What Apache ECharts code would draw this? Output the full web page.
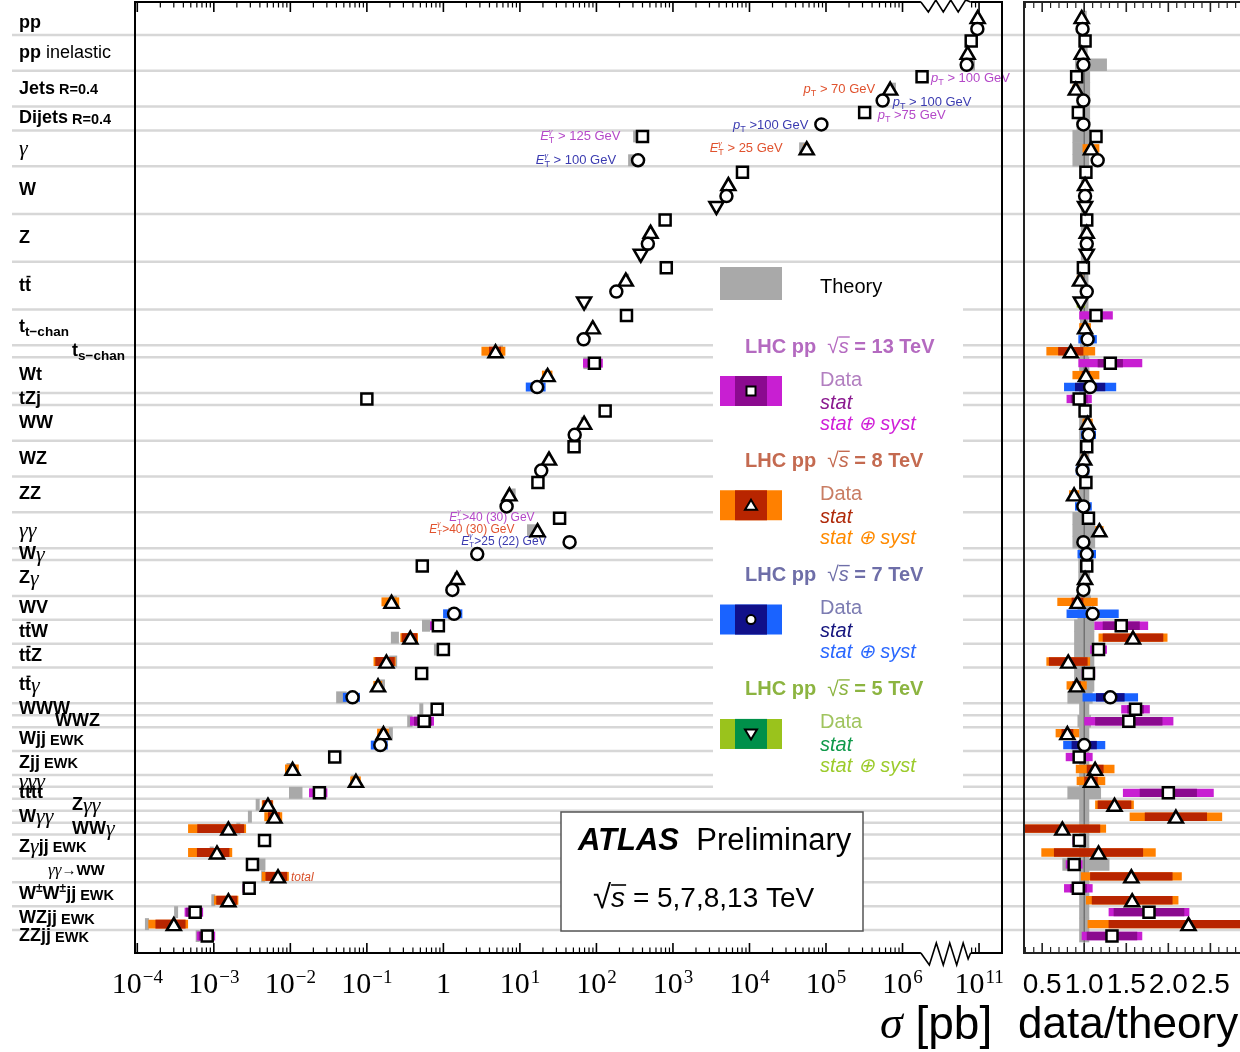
<!DOCTYPE html>
<html>
<head>
<meta charset="utf-8">
<title>ATLAS cross-section summary</title>
<script src="https://cdn.jsdelivr.net/npm/echarts@6.0.0/dist/echarts.min.js"></script>
<style>
html,body{margin:0;padding:0;background:#ffffff;}
#chart{width:1240px;height:1052px;}
</style>
</head>
<body>
<div id="chart"></div>
<script>
// ================= DATA =================
const bandLabels = [
  '{b|pp}', '{b|pp}{n| inelastic}', '{b|Jets}{s| R=0.4}', '{b|Dijets}{s| R=0.4}', '{g|γ}',
  '{b|W}', '{b|Z}', '{b|t}{bo|t}', '{b|t}{sub|t−chan}', '{b|t}{sub|s−chan}',
  '{b|Wt}', '{b|tZj}', '{b|WW}', '{b|WZ}', '{b|ZZ}',
  '{g|γγ}', '{b|W}{g|γ}', '{b|Z}{g|γ}', '{b|WV}', '{b|t}{bo|t}{b|W}',
  '{b|t}{bo|t}{b|Z}', '{b|t}{bo|t}{g|γ}', '{b|WWW}', '{b|WWZ}', '{b|Wjj}{s| EWK}',
  '{b|Zjj}{s| EWK}', '{g|γγγ}', '{b|tttt}', '{b|Z}{g|γγ}', '{b|W}{g|γγ}',
  '{b|WW}{g|γ}', '{b|Z}{g|γ}{b|jj}{s| EWK}', '{gs|γγ}{bs|→WW}', '{b|W}{sup|±}{b|W}{sup|±}{b|jj}{s| EWK}', '{b|WZjj}{s| EWK}',
  '{b|ZZjj}{s| EWK}'
];
const bandRows = [2,3,3,2,3, 4,4,4,3,1, 3,1,3,3,3, 3,1,3,2,2, 2,3,1,1,2, 2,1,1,1,1, 1,2,2,2,2, 1];

const rowEnergy = [8,7, 13,8,7, 13,8,7, 13,7, 13,8,7, 13,8,7,5, 13,8,7,5, 13,8,7,5, 13,8,7, 8, 13,8,7, 13,
  13,8,7, 13,8,7, 13,8,7, 13,8,7, 7, 13,8,7, 8,7, 13,8, 13,8, 13,8,7, 13, 13, 8,7, 13,8, 8, 13, 8, 8, 8,
  13,8, 13,8, 13,8, 13,8, 13];

// measured cross sections [pb]
const sigma = [9.6e10, 9.5e10, 7.9e10, 7.1e10, 6.9e10, 1.8e6, 6.9e5, 5.5e5, 3.2e5, 8.7e4,
  4.0e2, 5.6e4, 3.5e2, 8.1e3, 5.3e3, 5.0e3, 3.7e3, 7.9e2, 5.1e2, 4.7e2, 3.8e2,
  818, 242, 182, 69, 247, 89.6, 68, 4.8, 94, 23, 16.8, 0.10,
  130, 69, 52, 51, 24, 19, 17.2, 7.3, 6.7, 33, 17, 44.6, 2.77, 0.53, 1.5, 1.31,
  0.21, 1.38, 0.86, 0.37, 1.0, 0.18, 0.52, 0.14, 0.065, 0.83, 0.56, 0.165, 0.15,
  0.038, 0.0107, 0.072, 0.024, 5.1e-3, 6.2e-3, 1.55e-3, 4.6e-3, 1.1e-3, 3.2e-3, 6.9e-3,
  2.9e-3, 1.55e-3, 5.7e-4, 3.0e-4, 8.2e-4];

// data / theory
const ratio = [0.97,0.98, 1.01,0.97,0.99, 0.91,0.90,0.99, 0.93,0.99, 1.14,1.08,1.16,
  1.02,1.01,1.01,1.01, 1.03,1.03,1.03,1.03, 0.99,0.95,1.03,0.96, 1.14,1.01,1.04, 0.84,
  1.31,1.02,1.07, 0.94, 1.01,1.04,1.05, 1.03,1.00,0.98, 1.02,0.88,0.99, 1.05,1.18,0.99,
  1.03, 1.03,1.01,0.99, 0.92,1.10, 1.44,1.58, 1.17,0.81, 1.05,0.91,1.31, 1.61, 1.53,
  0.80,1.00, 0.94,1.13, 1.08, 2.00, 1.36, 2.09, 0.74, 0.94,1.17, 0.88,1.56, 0.93,1.57,
  1.77,2.24, 1.33];
const statErr = [0.005,0.005, 0.005,0.005,0.005, 0.005,0.01,0.01, 0.005,0.01, 0.005,0.02,0.005,
  0.005,0.005,0.005,0.005, 0.005,0.005,0.005,0.005, 0.005,0.005,0.005,0.01, 0.03,0.02,0.05, 0.15,
  0.15,0.05,0.18, 0.10, 0.02,0.02,0.04, 0.03,0.02,0.04, 0.03,0.03,0.05, 0.01,0.01,0.01,
  0.03, 0.01,0.01,0.02, 0.07,0.06, 0.22,0.36, 0.06,0.23, 0.03,0.05,0.17, 0.10, 0.40,
  0.07,0.15, 0.05,0.10, 0.08, 0.34, 0.20, 0.37, 0.45, 0.05,0.53, 0.05,0.49, 0.10,0.48,
  0.42,0.95, 0.30];
const totErr = [0.02,0.02, 0.03,0.02,0.02, 0.02,0.04,0.05, 0.02,0.05, 0.03,0.10,0.03,
  0.03,0.03,0.03,0.03, 0.03,0.03,0.03,0.03, 0.04,0.04,0.04,0.05, 0.20,0.07,0.11, 0.29,
  0.38,0.16,0.31, 0.15, 0.07,0.06,0.09, 0.05,0.04,0.08, 0.05,0.06,0.10, 0.05,0.05,0.05,
  0.11, 0.04,0.03,0.05, 0.24,0.31, 0.32,0.41, 0.10,0.26, 0.08,0.12,0.33, 0.17, 0.53,
  0.14,0.25, 0.16,0.23, 0.17, 0.54, 0.23, 0.55, 0.52, 0.08,0.68, 0.10,0.60, 0.17,0.55,
  0.48,1.20, 0.36];
// relative theory uncertainty (down / up)
const theoryDn = [0.03,0.03, 0.04,0.04,0.11, 0.09,0.09,0.09, 0.09,0.09, 0.14,0.14,0.14,
  0.04,0.04,0.04,0.04, 0.04,0.04,0.04,0.04, 0.05,0.05,0.05,0.05, 0.05,0.05,0.05, 0.05,
  0.06,0.06,0.06, 0.06, 0.06,0.06,0.06, 0.06,0.06,0.06, 0.06,0.06,0.06, 0.14,0.14,0.14,
  0.07, 0.07,0.07,0.07, 0.08,0.08, 0.12,0.12, 0.12,0.12, 0.12,0.12,0.20, 0.06, 0.08,
  0.06,0.06, 0.06,0.06, 0.06, 0.20, 0.06, 0.06, 0.06, 0.06,0.06, 0.26,0.06, 0.06,0.06,
  0.06,0.06, 0.06];
const theoryUp = [0.03,0.03, 0.04,0.04,0.27, 0.07,0.07,0.07, 0.07,0.07, 0.06,0.06,0.06,
  0.04,0.04,0.04,0.04, 0.04,0.04,0.04,0.04, 0.05,0.05,0.05,0.05, 0.05,0.05,0.05, 0.05,
  0.06,0.06,0.06, 0.06, 0.06,0.06,0.06, 0.06,0.06,0.06, 0.06,0.06,0.06, 0.13,0.13,0.13,
  0.07, 0.07,0.07,0.07, 0.08,0.08, 0.12,0.12, 0.12,0.12, 0.12,0.12,0.10, 0.06, 0.08,
  0.06,0.06, 0.06,0.06, 0.06, 0.20, 0.06, 0.06, 0.06, 0.06,0.06, 0.30,0.06, 0.06,0.06,
  0.06,0.06, 0.06];

const annotText = [
  '{ai|p}{at|T}{an| > 100 GeV}', '{ai|p}{at|T}{an| > 70 GeV}', '{ai|p}{at|T}{an| > 100 GeV}',
  '{ai|p}{at|T}{an| >75 GeV}', '{ai|p}{at|T}{an| >100 GeV}',
  '{ai|E}{ag|γ}{at|T}{an| > 125 GeV}', '{ai|E}{ag|γ}{at|T}{an| > 25 GeV}', '{ai|E}{ag|γ}{at|T}{an| > 100 GeV}',
  '{ci|E}{cg|γ}{ct|T}{cn|>40 (30) GeV}', '{ci|E}{cg|γ}{ct|T}{cn|>40 (30) GeV}', '{ci|E}{cg|γ}{ct|T}{cn|>25 (22) GeV}',
  '{ti|total}'
];
const annotRow = [5, 6, 7, 8, 9, 10, 11, 12, 42, 43, 44, 72];

const decadeExponents = [-4,-3,-2,-1,0,1,2,3,4,5,6,11];
const ratioTickValues = [0.5, 1.0, 1.5, 2.0, 2.5];
const legendEnergies = [13, 8, 7, 5];
const legendTitles = ['13 TeV', '8 TeV', '7 TeV', '5 TeV'];

// ================= LAYOUT / STYLE =================
const SANS = '"Liberation Sans", Arial, Helvetica, sans-serif';
const SERIF = '"Liberation Serif", "Times New Roman", serif';
const U_MIN = -4.03, U_MAX = 7.30;       // main axis (log10 sigma, broken above 1e8)
const BREAK_AT = 8, BREAK_SHIFT = 4;
const ZIG_LO = 6.24, ZIG_HI = 6.89;
const R_MIN = 0.284, R_MAX = 2.852;
const Y_MIN = -1.26, Y_MAX = 78.42;
const GRID_TOP = 2, GRID_H = 951;
const LABEL_X = 19;
const LABEL_INDENT = {9: 53, 23: 36, 28: 53, 30: 53, 32: 29};
const ANNOT_LAYOUT = [
  ['right', 9, 2], ['left', -15, 1], ['right', 10, 2], ['right', 13, 3], ['left', -13, 1],
  ['left', -22, 0], ['left', -24, 0], ['left', -22, 0],
  ['left', -25, -1], ['left', -23, -1], ['left', -23, -1], ['right', 13, 1]
];
const THEORY_COLOR = '#a9a9a9';
const SEP_COLOR = '#d7d7d7';

const ES = {
  13: {symbol: 'rect', size: 11, rotate: 0, stat: '#8b0a8f', tot: '#c81fd2', title: '#b46ac0', data: '#b27fc0', statTxt: '#8b1a90', totTxt: '#d020d8', annot: '#b448c8'},
  8:  {symbol: 'triangle', size: [14, 12], rotate: 0, stat: '#b82500', tot: '#ff8000', title: '#c46a50', data: '#c97d63', statTxt: '#b02a0a', totTxt: '#ff8a00', annot: '#e0522e'},
  7:  {symbol: 'circle', size: 12, rotate: 0, stat: '#10108a', tot: '#1a63ff', title: '#6e6ea8', data: '#7c7cb2', statTxt: '#15157e', totTxt: '#2a68ff', annot: '#3b3bb0'},
  5:  {symbol: 'triangle', size: [14, 12], rotate: 180, stat: '#00904a', tot: '#9ac31c', title: '#8cb440', data: '#a0c45e', statTxt: '#10994a', totTxt: '#9ccb2c', annot: '#5a9a30'}
};

const TXT = {
  b:   {font: 'bold 18px ' + SANS},
  n:   {font: '18px ' + SANS},
  s:   {font: 'bold 14.5px ' + SANS, dy: 1.5},
  sub: {font: 'bold 13.5px ' + SANS, dy: 5},
  sup: {font: 'bold 12px ' + SANS, dy: -6},
  g:   {font: 'italic 22px ' + SERIF, dy: 1},
  bo:  {font: 'bold 18px ' + SANS, over: [1.5, -9, -0.5, 1.6]},
  gs:  {font: 'italic 17px ' + SERIF},
  bs:  {font: 'bold 15px ' + SANS},
  ai:  {font: 'italic 13px ' + SANS},
  at:  {font: '9px ' + SANS, dy: 4},
  ag:  {font: 'italic 9px ' + SERIF, dy: -5, adv: false},
  an:  {font: '13px ' + SANS},
  ci:  {font: 'italic 12px ' + SANS},
  ct:  {font: '8px ' + SANS, dy: 4},
  cg:  {font: 'italic 8px ' + SERIF, dy: -5, adv: false},
  cn:  {font: '12px ' + SANS},
  ti:  {font: 'italic 12px ' + SANS},
  lb:  {font: 'bold 20px ' + SANS},
  lr:  {font: '21px ' + SANS},
  ls:  {font: 'italic 20px ' + SANS, over: [0, -10, 1, 1.4]},
  lt:  {font: '20px ' + SANS},
  li:  {font: 'italic 20px ' + SANS},
  ab:  {font: 'bold italic 31px ' + SANS},
  ap:  {font: '31px ' + SANS},
  ar:  {font: '33px ' + SANS},
  as:  {font: 'italic 28px ' + SANS, over: [0, -14, 1, 1.6]},
  an2: {font: '28px ' + SANS},
  tg:  {font: 'italic 46px ' + SERIF},
  tn:  {font: '46px ' + SANS},
  tn2: {font: '44px ' + SANS}
};

// ================= HELPERS =================
function u(s) { const l = Math.log10(s); return l >= BREAK_AT ? l - BREAK_SHIFT : l; }
const mctx = document.createElement('canvas').getContext('2d');
function measure(font, t) { mctx.font = font; return mctx.measureText(t).width; }
function parseMarkup(str) {
  const re = /\{(\w+)\|([^}]*)\}/g; const out = []; let m;
  while ((m = re.exec(str))) out.push({k: m[1], t: m[2]});
  return out;
}
function buildRich(markup, x, y, color, align, z) {
  const parts = parseMarkup(markup);
  let w = 0; const laid = [];
  for (const p of parts) {
    const st = TXT[p.k]; const pw = measure(st.font, p.t);
    laid.push({p, st, x: w, w: pw});
    if (st.adv !== false) w += pw;
  }
  const x0 = align === 'right' ? x - w : (align === 'center' ? x - w / 2 : x);
  const els = [];
  for (const L of laid) {
    const px = x0 + L.x, py = y + (L.st.dy || 0);
    const e = {type: 'text', style: {text: L.p.t, x: px, y: py, font: L.st.font, fill: color,
      align: 'left', verticalAlign: 'middle', textAlign: 'left', textVerticalAlign: 'middle'}};
    if (z !== undefined) e.z = z;
    els.push(e);
    if (L.st.over) {
      const o = L.st.over;
      const ln = {type: 'line', shape: {x1: px + o[0], y1: py + o[1], x2: px + L.w + o[2], y2: py + o[1]},
        style: {stroke: color, lineWidth: o[3]}};
      if (z !== undefined) ln.z = z;
      els.push(ln);
    }
  }
  return els;
}
function rectItem(params, api, x0, x1, row, hFrac, color) {
  const p0 = api.coord([x0, row]), p1 = api.coord([x1, row]);
  const h = api.size([0, 1])[1] * hFrac;
  const cs = params.coordSys;
  const shape = echarts.graphic.clipRectByRect(
    {x: Math.min(p0[0], p1[0]), y: p0[1] - h / 2, width: Math.abs(p1[0] - p0[0]), height: h},
    {x: cs.x, y: cs.y, width: cs.width, height: cs.height});
  return shape ? {type: 'rect', shape: shape, style: {fill: color}} : null;
}

// ================= DERIVED =================
const NROW = sigma.length;
const rows = Array.from({length: NROW}, (_, i) => i);
const bandFirst = []; { let acc = 0; for (const n of bandRows) { bandFirst.push(acc); acc += n; } }
const bandMid = bandFirst.map((f, i) => f + (bandRows[i] - 1) / 2);
const boundaries = bandFirst.slice(1).map(f => f - 0.5);

const mainMajor = decadeExponents.map(e => u(Math.pow(10, e)));
const mainMinor = [];
for (let d = -4; d <= 5; d++) for (let k = 2; k <= 9; k++) mainMinor.push(d + Math.log10(k));
for (const k of [8, 9]) mainMinor.push(u(k * 1e10));
const ratioMinor = [];
for (let v = 3; v <= 28; v++) if (v % 5 !== 0) ratioMinor.push(v / 10);

// ================= SERIES =================
const series = [];

// separator lines across the whole figure
series.push({
  type: 'custom', xAxisIndex: 0, yAxisIndex: 0, z: 1, silent: true,
  data: boundaries.map(r => [U_MIN, r]), encode: {x: 0, y: 1},
  renderItem: (params, api) => {
    const y = api.coord([U_MIN, api.value(1)])[1];
    return {type: 'line', shape: {x1: 12, y1: y, x2: api.getWidth(), y2: y}, style: {stroke: SEP_COLOR, lineWidth: 2.5}};
  }
});

// process labels
series.push({
  type: 'custom', xAxisIndex: 0, yAxisIndex: 0, z: 5, silent: true,
  data: bandMid.map((m, i) => [U_MIN, m, i]), encode: {x: 0, y: 1},
  renderItem: (params, api) => {
    const i = api.value(2);
    const y = api.coord([U_MIN, api.value(1)])[1];
    const x = LABEL_X + (LABEL_INDENT[i] || 0);
    return {type: 'group', children: buildRich(bandLabels[i], x, y, '#000', 'left')};
  }
});

// theory bands (main)
series.push({
  type: 'custom', xAxisIndex: 0, yAxisIndex: 0, z: 2, silent: true,
  data: rows.map(i => { const t = sigma[i] / ratio[i]; return [u(t * (1 - theoryDn[i])), u(t * (1 + theoryUp[i])), i]; }),
  encode: {x: [0, 1], y: 2},
  renderItem: (params, api) => rectItem(params, api, api.value(0), api.value(1), api.value(2), 1.0, THEORY_COLOR)
});

// data uncertainty bands (main) + markers
for (const E of legendEnergies) {
  const idx = rows.filter(i => rowEnergy[i] === E);
  series.push({
    type: 'custom', xAxisIndex: 0, yAxisIndex: 0, z: 3, silent: true,
    data: idx.map(i => {
      const fT = totErr[i] / ratio[i], fS = statErr[i] / ratio[i];
      return [u(sigma[i] * Math.max(1 - fT, 0.01)), u(sigma[i] * (1 + fT)), i,
              u(sigma[i] * Math.max(1 - fS, 0.01)), u(sigma[i] * (1 + fS))];
    }),
    encode: {x: [0, 1], y: 2},
    renderItem: (params, api) => ({type: 'group', children: [
      rectItem(params, api, api.value(0), api.value(1), api.value(2), 0.75, ES[E].tot),
      rectItem(params, api, api.value(3), api.value(4), api.value(2), 0.75, ES[E].stat)
    ].filter(Boolean)})
  });
  series.push({
    type: 'scatter', xAxisIndex: 0, yAxisIndex: 0, z: 6, silent: true,
    symbol: ES[E].symbol, symbolSize: ES[E].size, symbolRotate: ES[E].rotate,
    itemStyle: {color: '#ffffff', borderColor: '#000000', borderWidth: 2.5, opacity: 1},
    data: idx.map(i => [u(sigma[i]), i])
  });
}

// annotations
series.push({
  type: 'custom', xAxisIndex: 0, yAxisIndex: 0, z: 6, silent: true,
  data: annotRow.map((r, k) => [u(sigma[r]), r, k]), encode: {x: 0, y: 1},
  renderItem: (params, api) => {
    const k = api.value(2), r = api.value(1);
    const p = api.coord([api.value(0), r]);
    const L = ANNOT_LAYOUT[k];
    const color = k === annotText.length - 1 ? '#d8502a' : ES[rowEnergy[r]].annot;
    return {type: 'group', children: buildRich(annotText[k], p[0] + L[1], p[1] + L[2], color, L[0] === 'left' ? 'right' : 'left')};
  }
});

// main frame, ticks, axis break
series.push({
  type: 'custom', xAxisIndex: 0, yAxisIndex: 0, z: 8, silent: true,
  data: [[U_MIN, 0]], encode: {x: 0, y: 1},
  renderItem: (params, api) => {
    const yT = api.coord([U_MIN, Y_MIN])[1], yB = api.coord([U_MIN, Y_MAX])[1];
    const xL = api.coord([U_MIN, 0])[0], xR = api.coord([U_MAX, 0])[0];
    const zs = api.coord([ZIG_LO, 0])[0], ze = api.coord([ZIG_HI, 0])[0];
    const ch = [];
    const L = (x1, y1, x2, y2, w) => ch.push({type: 'line', shape: {x1, y1, x2, y2}, style: {stroke: '#000', lineWidth: w || 2}});
    L(xL, yT - 1, xL, yB + 1); L(xR, yT - 1, xR, yB + 1);
    L(xL, yT, zs, yT); L(ze, yT, xR, yT);
    L(xL, yB, zs, yB); L(ze, yB, xR, yB);
    const zw = ze - zs;
    const botPat = [[0,0],[0.17,12],[0.31,-10],[0.45,12],[0.58,-10],[0.72,12],[0.85,-10],[0.95,6],[1,0]];
    const topPat = [[0,0],[0.15,10],[0.30,-2],[0.45,10],[0.60,-2],[0.75,10],[0.90,-2],[1,0]];
    ch.push({type: 'polyline', shape: {points: botPat.map(q => [zs + q[0] * zw, yB + q[1]])}, style: {fill: null, stroke: '#000', lineWidth: 1.6}});
    ch.push({type: 'polyline', shape: {points: topPat.map(q => [zs + q[0] * zw, yT + q[1]])}, style: {fill: null, stroke: '#000', lineWidth: 1.6}});
    for (const v of mainMajor) { const x = api.coord([v, 0])[0]; L(x, yT, x, yT + 10, 1.6); L(x, yB, x, yB - 10, 1.6); }
    for (const v of mainMinor) { const x = api.coord([v, 0])[0]; L(x, yT, x, yT + 5.5, 1.2); L(x, yB, x, yB - 5.5, 1.2); }
    return {type: 'group', children: ch};
  }
});

// ---- ratio panel ----
series.push({
  type: 'custom', xAxisIndex: 1, yAxisIndex: 1, z: 2, silent: true,
  data: rows.map(i => [1 - theoryDn[i], 1 + theoryUp[i], i]), encode: {x: [0, 1], y: 2},
  renderItem: (params, api) => rectItem(params, api, api.value(0), api.value(1), api.value(2), 1.05, THEORY_COLOR)
});
series.push({
  type: 'custom', xAxisIndex: 1, yAxisIndex: 1, z: 3, silent: true,
  data: [[1, 0]], encode: {x: 0, y: 1},
  renderItem: (params, api) => {
    const p0 = api.coord([1, Y_MIN]), p1 = api.coord([1, Y_MAX]);
    return {type: 'line', shape: {x1: p0[0], y1: p0[1], x2: p1[0], y2: p1[1]}, style: {stroke: '#6a6a6a', lineWidth: 1.3}};
  }
});
for (const E of legendEnergies) {
  const idx = rows.filter(i => rowEnergy[i] === E);
  series.push({
    type: 'custom', xAxisIndex: 1, yAxisIndex: 1, z: 4, silent: true,
    data: idx.map(i => [ratio[i] - totErr[i], ratio[i] + totErr[i], i, ratio[i] - statErr[i], ratio[i] + statErr[i]]),
    encode: {x: [0, 1], y: 2},
    renderItem: (params, api) => ({type: 'group', children: [
      rectItem(params, api, api.value(0), api.value(1), api.value(2), 0.7, ES[E].tot),
      rectItem(params, api, api.value(3), api.value(4), api.value(2), 0.7, ES[E].stat)
    ].filter(Boolean)})
  });
  series.push({
    type: 'scatter', xAxisIndex: 1, yAxisIndex: 1, z: 6, silent: true,
    symbol: ES[E].symbol, symbolSize: ES[E].size, symbolRotate: ES[E].rotate,
    itemStyle: {color: '#ffffff', borderColor: '#000000', borderWidth: 2.5, opacity: 1},
    data: idx.map(i => [ratio[i], i])
  });
}
series.push({
  type: 'custom', xAxisIndex: 1, yAxisIndex: 1, z: 8, silent: true,
  data: [[1, 0]], encode: {x: 0, y: 1},
  renderItem: (params, api) => {
    const yT = api.coord([R_MIN, Y_MIN])[1], yB = api.coord([R_MIN, Y_MAX])[1];
    const xL = api.coord([R_MIN, 0])[0], xR = api.getWidth() + 5;
    const ch = [];
    const L = (x1, y1, x2, y2, w) => ch.push({type: 'line', shape: {x1, y1, x2, y2}, style: {stroke: '#222', lineWidth: w || 2}});
    L(xL, yT - 1, xL, yB + 1); L(xL, yT, xR, yT); L(xL, yB, xR, yB);
    for (const v of ratioTickValues) { const x = api.coord([v, 0])[0]; L(x, yT, x, yT + 10, 1.6); L(x, yB, x, yB - 10, 1.6); }
    for (const v of ratioMinor) { const x = api.coord([v, 0])[0]; L(x, yT, x, yT + 6, 1.2); L(x, yB, x, yB - 6, 1.2); }
    return {type: 'group', children: ch};
  }
});

// ================= GRAPHIC (legend, boxes, titles) =================
const graphic = [];
const Z = 100;
graphic.push({type: 'rect', z: Z, shape: {x: 713, y: 266, width: 250, height: 528}, style: {fill: '#ffffff'}});
graphic.push({type: 'rect', z: Z, shape: {x: 720, y: 267, width: 62, height: 33}, style: {fill: THEORY_COLOR}});
graphic.push(...buildRich('{lt|Theory}', 820, 287, '#000', 'left', Z));
legendEnergies.forEach((E, k) => {
  const ty = 347 + k * 114.3;
  const st = ES[E];
  graphic.push(...buildRich('{lb|LHC pp  }{lr|√}{ls|s}{lb| = ' + legendTitles[k] + '}', 745, ty, st.title, 'left', Z));
  const by = ty + 29;
  graphic.push({type: 'rect', z: Z, shape: {x: 720, y: by, width: 62, height: 30}, style: {fill: st.tot}});
  graphic.push({type: 'rect', z: Z, shape: {x: 735, y: by, width: 32, height: 30}, style: {fill: st.stat}});
  const cx = 751, cy = by + 15;
  const mk = {fill: '#fff', stroke: '#000', lineWidth: 2};
  if (E === 13) graphic.push({type: 'rect', z: Z + 1, shape: {x: cx - 4.5, y: cy - 4.5, width: 9, height: 9}, style: mk});
  else if (E === 7) graphic.push({type: 'circle', z: Z + 1, shape: {cx: cx, cy: cy, r: 4.5}, style: mk});
  else if (E === 8) graphic.push({type: 'polygon', z: Z + 1, shape: {points: [[cx, cy - 5.5], [cx + 6, cy + 4.5], [cx - 6, cy + 4.5]]}, style: mk});
  else graphic.push({type: 'polygon', z: Z + 1, shape: {points: [[cx, cy + 5.5], [cx + 6, cy - 4.5], [cx - 6, cy - 4.5]]}, style: mk});
  graphic.push(...buildRich('{lt|Data}', 820, ty + 33, st.data, 'left', Z));
  graphic.push(...buildRich('{li|stat}', 820, ty + 56, st.statTxt, 'left', Z));
  graphic.push(...buildRich('{li|stat ⊕ syst}', 820, ty + 77, st.totTxt, 'left', Z));
});
// ATLAS box
graphic.push({type: 'rect', z: Z, shape: {x: 561, y: 812, width: 302, height: 119}, style: {fill: '#ffffff', stroke: '#555', lineWidth: 1.5}});
graphic.push(...buildRich('{ab|ATLAS}{ap|  Preliminary}', 578, 841, '#000', 'left', Z));
graphic.push(...buildRich('{ar|√}{as|s}{an2| = 5,7,8,13 TeV}', 593, 899, '#000', 'left', Z));
// axis titles
graphic.push(...buildRich('{tg|σ}{tn| [pb]}', 880, 1026, '#000', 'left', Z));
graphic.push(...buildRich('{tn2|data/theory}', 1018, 1026, '#000', 'left', Z));

// ================= OPTION =================
const chart = echarts.init(document.getElementById('chart'), null, {renderer: 'canvas'});
chart.setOption({
  animation: false,
  backgroundColor: '#ffffff',
  grid: [
    {left: 135, top: GRID_TOP, width: 867, height: GRID_H, show: false},
    {left: 1024, top: GRID_TOP, width: 226, height: GRID_H, show: false}
  ],
  xAxis: [
    {gridIndex: 0, type: 'value', min: U_MIN, max: U_MAX,
     axisLine: {show: false}, axisTick: {show: false}, splitLine: {show: false},
     axisLabel: {
       customValues: mainMajor, margin: 12, color: '#000',
       formatter: (v) => {
         const e = Math.round(v > 6.5 ? v + BREAK_SHIFT : v);
         if (e === 0) return '{m|1}';
         return '{m|10}{e|' + (e < 0 ? '\u2212' + (-e) : e) + '}';
       },
       rich: {
         m: {fontFamily: SERIF, fontSize: 30, lineHeight: 40, color: '#000'},
         e: {fontFamily: SERIF, fontSize: 19, verticalAlign: 'top', padding: [4, 0, 0, 1], color: '#000'}
       }
     }},
    {gridIndex: 1, type: 'value', min: R_MIN, max: R_MAX,
     axisLine: {show: false}, axisTick: {show: false}, splitLine: {show: false},
     axisLabel: {customValues: ratioTickValues, margin: 18, color: '#000', fontFamily: SANS, fontSize: 28,
       formatter: (v) => v.toFixed(1)}}
  ],
  yAxis: [
    {gridIndex: 0, type: 'value', inverse: true, min: Y_MIN, max: Y_MAX, show: false},
    {gridIndex: 1, type: 'value', inverse: true, min: Y_MIN, max: Y_MAX, show: false}
  ],
  graphic: graphic,
  series: series
});
</script>
</body>
</html>
